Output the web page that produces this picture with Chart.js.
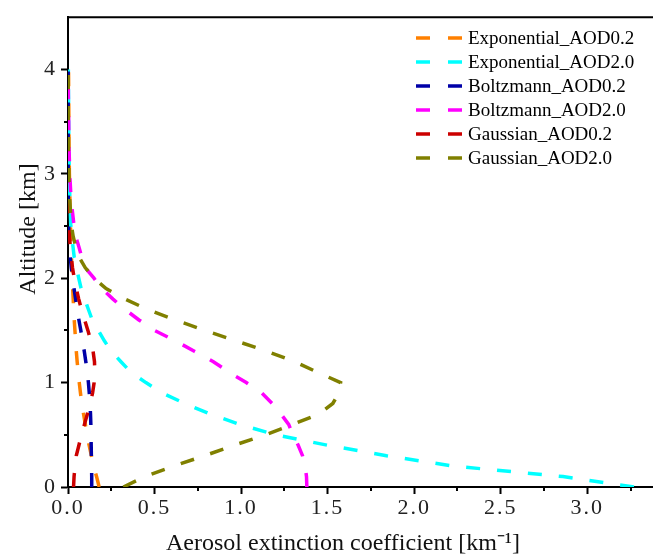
<!DOCTYPE html>
<html>
<head>
<meta charset="utf-8">
<script src="https://cdn.jsdelivr.net/npm/chart.js@4/dist/chart.umd.min.js"></script>
<style>
  html, body { margin: 0; padding: 0; background: #fff; overflow: hidden; }
  #wrap { width: 653px; height: 556px; }
</style>
</head>
<body>
<div id="wrap"><canvas id="profileChart" width="653" height="556"></canvas></div>
<script>
// altitude levels [km], shared by all profiles
var altitudes = [0, 0.1, 0.2, 0.3, 0.4, 0.5, 0.6, 0.7, 0.8, 0.9, 1.0, 1.1, 1.2, 1.3, 1.4, 1.5,
  1.6, 1.7, 1.8, 1.9, 2.0, 2.1, 2.2, 2.3, 2.4, 2.5, 2.75, 3.0, 3.25, 3.5, 3.75, 4.0];

// extinction coefficient [km-1] at each altitude
var expAOD02 = [0.18, 0.165, 0.148, 0.135, 0.122, 0.11, 0.10, 0.09, 0.08, 0.072, 0.065, 0.059, 0.053, 0.048, 0.044, 0.040,
  0.036, 0.033, 0.030, 0.027, 0.024, 0.022, 0.020, 0.018, 0.016, 0.014, 0.011, 0.008, 0.006, 0.005, 0.004, 0.003];
var expAOD20 = [3.27, 2.86, 2.23, 1.84, 1.50, 1.20, 0.99, 0.82, 0.675, 0.546, 0.45, 0.363, 0.306, 0.25, 0.21, 0.175,
  0.14, 0.118, 0.097, 0.076, 0.062, 0.049, 0.036, 0.029, 0.022, 0.016, 0.011, 0.008, 0.005, 0.004, 0.003, 0.002];
var boltzAOD02 = [0.137, 0.137, 0.136, 0.135, 0.134, 0.133, 0.132, 0.130, 0.127, 0.123, 0.118, 0.111, 0.103, 0.094, 0.084, 0.074,
  0.063, 0.053, 0.044, 0.035, 0.027, 0.019, 0.013, 0.009, 0.006, 0.004, 0.002, 0.001, 0.001, 0.001, 0.001, 0.001];
var boltzAOD20 = [1.38, 1.378, 1.37, 1.355, 1.33, 1.30, 1.275, 1.23, 1.18, 1.12, 1.03, 0.93, 0.84, 0.73, 0.62, 0.50,
  0.41, 0.33, 0.26, 0.195, 0.15, 0.10, 0.08, 0.063, 0.045, 0.035, 0.018, 0.010, 0.006, 0.004, 0.002, 0.001];
var gaussAOD02 = [0.032, 0.035, 0.041, 0.048, 0.063, 0.078, 0.095, 0.112, 0.128, 0.142, 0.151, 0.155, 0.153, 0.145, 0.132, 0.115,
  0.096, 0.078, 0.062, 0.048, 0.036, 0.026, 0.019, 0.013, 0.009, 0.006, 0.003, 0.001, 0.001, 0.001, 0.001, 0.001];
var gaussAOD20 = [0.32, 0.445, 0.61, 0.79, 0.96, 1.14, 1.30, 1.45, 1.53, 1.565, 1.575, 1.44, 1.31, 1.15, 0.97, 0.79,
  0.62, 0.46, 0.33, 0.22, 0.15, 0.10, 0.065, 0.045, 0.03, 0.02, 0.01, 0.005, 0.003, 0.002, 0.001, 0.001];

var seriesNames = ["Exponential_AOD0.2", "Exponential_AOD2.0", "Boltzmann_AOD0.2",
  "Boltzmann_AOD2.0", "Gaussian_AOD0.2", "Gaussian_AOD2.0"];
var seriesValues = [expAOD02, expAOD20, boltzAOD02, boltzAOD20, gaussAOD02, gaussAOD20];
var seriesColors = ["#ff8000", "#00ffff", "#0000a8", "#ff00ff", "#cc0000", "#808000"];

var xMajorTicks = [0, 0.5, 1.0, 1.5, 2.0, 2.5, 3.0];
var xMinorTicks = [0.25, 0.75, 1.25, 1.75, 2.25, 2.75, 3.25];
var yMajorTicks = [0, 1, 2, 3, 4];
var yMinorTicks = [0.5, 1.5, 2.5, 3.5];

var xTitle = "Aerosol extinction coefficient [km\u207B\u00B9]";
var yTitle = "Altitude [km]";

var tickFont = { family: "'Liberation Serif', serif", size: 22 };

// wider letter spacing for tick labels only (scales are drawn before datasets)
var tickSpacing = {
  id: "tickSpacing",
  beforeDraw: function (chart) { chart.ctx.letterSpacing = "2px"; },
  beforeDatasetsDraw: function (chart) { chart.ctx.letterSpacing = "0px"; }
};

// top frame line, minor ticks and axis titles
var frameTicks = {
  id: "frameTicks",
  afterDraw: function (chart) {
    var ctx = chart.ctx, a = chart.chartArea;
    var sx = chart.scales.x, sy = chart.scales.y;
    ctx.save();
    ctx.letterSpacing = "0px";
    ctx.strokeStyle = "#000";
    ctx.lineWidth = 2;
    ctx.beginPath();
    ctx.moveTo(a.left - 1, a.top);
    ctx.lineTo(a.right, a.top);
    xMinorTicks.forEach(function (v) {
      var px = Math.round(sx.getPixelForValue(v));
      ctx.moveTo(px, a.bottom);
      ctx.lineTo(px, a.bottom + 4);
    });
    yMinorTicks.forEach(function (v) {
      var py = Math.round(sy.getPixelForValue(v));
      ctx.moveTo(a.left, py);
      ctx.lineTo(a.left - 4, py);
    });
    ctx.stroke();

    ctx.fillStyle = "#111";
    ctx.font = "24px 'Liberation Serif', serif";
    ctx.textAlign = "center";
    ctx.textBaseline = "middle";
    ctx.fillText(xTitle, 343, 544);
    ctx.translate(29, 229);
    ctx.rotate(-Math.PI / 2);
    ctx.fillText(yTitle, 0, 0);
    ctx.restore();
  }
};

// legend with two short dashes per entry
var dashLegend = {
  id: "dashLegend",
  afterDraw: function (chart) {
    var ctx = chart.ctx;
    ctx.save();
    ctx.letterSpacing = "0px";
    ctx.font = "19px 'Liberation Serif', serif";
    ctx.textBaseline = "middle";
    chart.data.datasets.forEach(function (ds, i) {
      var yy = 38 + i * 24;
      ctx.strokeStyle = ds.borderColor;
      ctx.lineWidth = 3.5;
      ctx.beginPath();
      ctx.moveTo(416, yy); ctx.lineTo(430, yy);
      ctx.moveTo(448, yy); ctx.lineTo(462, yy);
      ctx.stroke();
      ctx.fillStyle = "#000";
      ctx.fillText(ds.label, 468, yy + 1);
    });
    ctx.restore();
  }
};

var datasets = seriesNames.map(function (name, i) {
  return {
    label: name,
    data: seriesValues[i].map(function (v, j) { return { x: v, y: altitudes[j] }; }),
    borderColor: seriesColors[i],
    backgroundColor: seriesColors[i],
    borderWidth: 3.5,
    borderDash: [14, 17],
    pointRadius: 0,
    tension: 0,
    fill: false,
    order: seriesNames.length - i // later series drawn on top
  };
});

var ctx = document.getElementById("profileChart").getContext("2d");
var myChart = new Chart(ctx, {
  type: "line",
  data: { datasets: datasets },
  options: {
    responsive: false,
    animation: false,
    events: [],
    layout: { padding: { top: 15, right: 0, bottom: 0, left: 0 } },
    plugins: {
      legend: { display: false },
      tooltip: { enabled: false }
    },
    scales: {
      x: {
        type: "linear",
        position: "bottom",
        min: 0,
        max: 3.38,
        afterBuildTicks: function (s) { s.ticks = xMajorTicks.map(function (v) { return { value: v }; }); },
        afterFit: function (s) { s.height = 69; },
        ticks: {
          font: tickFont, color: "#222", padding: 1, maxRotation: 0, autoSkip: false,
          callback: function (v) { return Number(v).toFixed(1); }
        },
        grid: { drawOnChartArea: false, drawTicks: true, tickLength: 7, tickWidth: 2, tickColor: "#000" },
        border: { display: true, color: "#000", width: 2 }
      },
      y: {
        type: "linear",
        min: 0,
        max: 4.5,
        afterBuildTicks: function (s) { s.ticks = yMajorTicks.map(function (v) { return { value: v }; }); },
        afterFit: function (s) { s.width = 68; },
        ticks: {
          font: tickFont, color: "#222", padding: 4,
          callback: function (v) { return String(v); }
        },
        grid: { drawOnChartArea: false, drawTicks: true, tickLength: 7, tickWidth: 2, tickColor: "#000" },
        border: { display: true, color: "#000", width: 2 }
      }
    }
  },
  plugins: [tickSpacing, frameTicks, dashLegend]
});
</script>
</body>
</html>
